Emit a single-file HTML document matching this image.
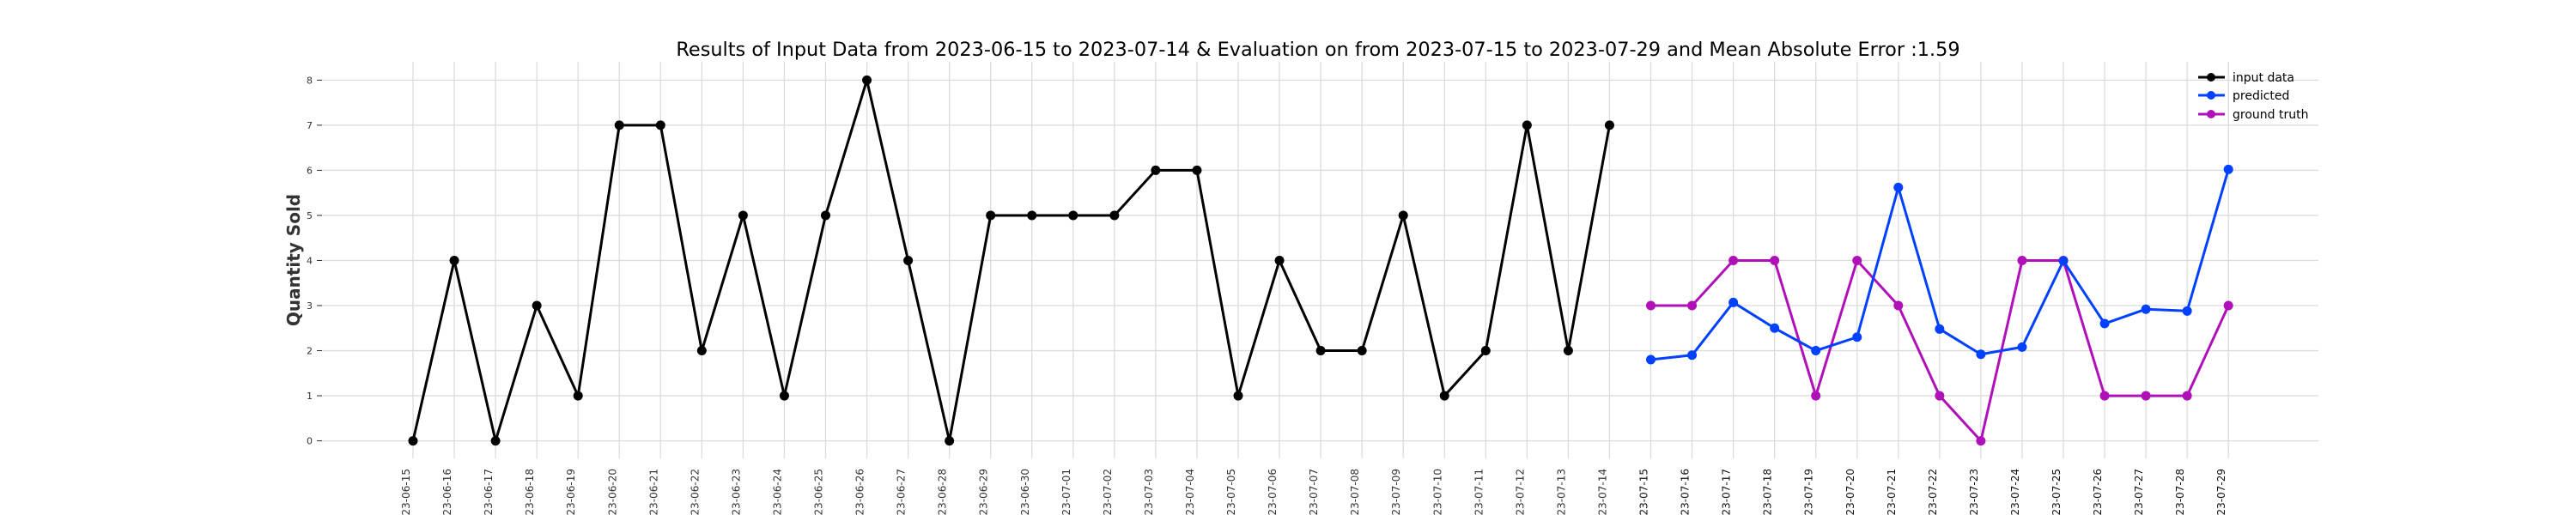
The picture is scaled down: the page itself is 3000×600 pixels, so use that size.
<!DOCTYPE html>
<html><head><meta charset="utf-8"><style>
html,body{margin:0;padding:0;background:#fff;width:3000px;height:600px;overflow:hidden}
svg{display:block;font-family:"DejaVu Sans","Liberation Sans",sans-serif}
</style></head><body>
<svg id="chart" width="3000" height="600" xmlns="http://www.w3.org/2000/svg">
<text x="1535" y="65" text-anchor="middle" font-size="22.4" fill="#000">Results of Input Data from 2023-06-15 to 2023-07-14 &amp; Evaluation on from 2023-07-15 to 2023-07-29 and Mean Absolute Error  :1.59</text>
<text transform="translate(349,303) rotate(-90)" text-anchor="middle" font-size="20" font-weight="bold" fill="#333">Quantity Sold</text>
<g id="grid"></g><g id="axes"></g><g id="series"></g>
<g font-size="14" fill="#000">
 <g><line x1="2560" y1="90" x2="2591" y2="90" stroke="#000" stroke-width="3"/><circle cx="2575" cy="90" r="5" fill="#000"/><text x="2600" y="95">input data</text></g>
 <g><line x1="2560" y1="111" x2="2591" y2="111" stroke="#0040ff" stroke-width="3"/><circle cx="2575" cy="111" r="5" fill="#0040ff"/><text x="2600" y="116">predicted</text></g>
 <g><line x1="2560" y1="133" x2="2591" y2="133" stroke="#b010b8" stroke-width="3"/><circle cx="2575" cy="133" r="5" fill="#b010b8"/><text x="2600" y="138">ground truth</text></g>
</g>
</svg>
<script>
const inputDates = ["2023-06-15","2023-06-16","2023-06-17","2023-06-18","2023-06-19","2023-06-20","2023-06-21","2023-06-22","2023-06-23","2023-06-24","2023-06-25","2023-06-26","2023-06-27","2023-06-28","2023-06-29","2023-06-30","2023-07-01","2023-07-02","2023-07-03","2023-07-04","2023-07-05","2023-07-06","2023-07-07","2023-07-08","2023-07-09","2023-07-10","2023-07-11","2023-07-12","2023-07-13","2023-07-14"];
const inputValues = [0,4,0,3,1,7,7,2,5,1,5,8,4,0,5,5,5,5,6,6,1,4,2,2,5,1,2,7,2,7];
const evalDates = ["2023-07-15","2023-07-16","2023-07-17","2023-07-18","2023-07-19","2023-07-20","2023-07-21","2023-07-22","2023-07-23","2023-07-24","2023-07-25","2023-07-26","2023-07-27","2023-07-28","2023-07-29"];
const predictedValues = [1.80,1.90,3.07,2.50,2.00,2.30,5.62,2.48,1.92,2.08,3.99,2.60,2.92,2.88,6.02];
const groundTruthValues = [3,3,4,4,1,4,3,1,0,4,4,1,1,1,3];
const yTicks = [0,1,2,3,4,5,6,7,8];

const NS="http://www.w3.org/2000/svg";
const allDates = inputDates.concat(evalDates);
const x0=481, step=48.05, y0=513.6, yUnit=52.53;
const xScale = d => x0 + allDates.indexOf(d)*step;
const yScale = v => y0 - v*yUnit;
function mk(tag, attrs, parent){const e=document.createElementNS(NS,tag);for(const k in attrs)e.setAttribute(k,attrs[k]);parent.appendChild(e);return e;}
const grid=document.getElementById('grid'), axes=document.getElementById('axes'), series=document.getElementById('series');
yTicks.forEach(t=>{
  const y=yScale(t);
  const l=mk('line',{x1:371,x2:2700,y1:y,y2:y,stroke:'#dcdcdc','stroke-width':1.3},grid);
  
  
  mk('line',{x1:369,x2:375,y1:y,y2:y,stroke:'#333','stroke-width':1},axes);
  const tx=mk('text',{x:364,y:y+4,'text-anchor':'end','font-size':11,fill:'#333'},axes);
  tx.textContent=t;
  
  
});
allDates.forEach((d,i)=>{
  const x=xScale(d);
  const l=mk('line',{x1:x,x2:x,y1:72,y2:534,stroke:'#dcdcdc','stroke-width':1.3},grid);
  
  
  const tx=mk('text',{transform:`translate(${x-4},546) rotate(-90)`,'text-anchor':'end','font-size':12,fill:i>=inputDates.length?'#111':'#333'},axes);
  tx.textContent=d;
  
  
});
function drawSeries(dates, vals, color, name){
  const g=mk('g',{},series);
  
  
  const pts=dates.map((d,i)=>xScale(d)+','+yScale(vals[i])).join(' ');
  mk('polyline',{points:pts,fill:'none',stroke:color,'stroke-width':3,'stroke-linejoin':'round'},g);
  dates.forEach((d,i)=>{
    const c=mk('circle',{cx:xScale(d),cy:yScale(vals[i]),r:5.5,fill:color},g);
    
    
  });
}
drawSeries(inputDates,inputValues,'#000','input-data-line');
drawSeries(evalDates,groundTruthValues,'#b010b8','ground-truth-line');
drawSeries(evalDates,predictedValues,'#0040ff','predicted-line');
</script>
</body></html>
